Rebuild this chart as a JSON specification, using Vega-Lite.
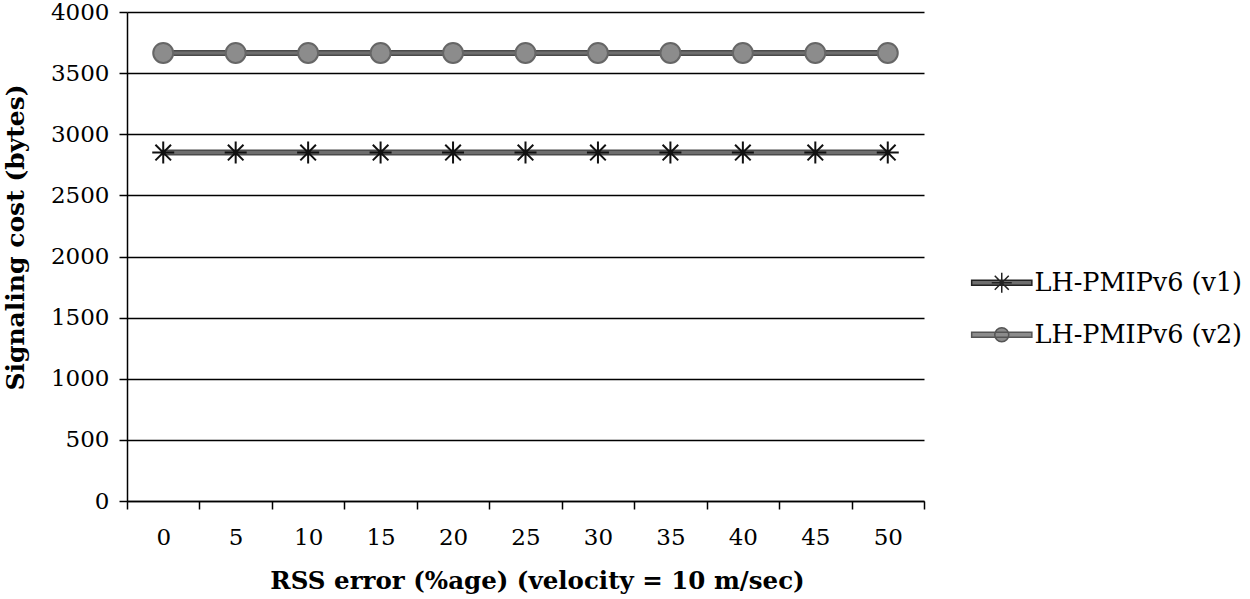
{
  "$schema": "https://vega.github.io/schema/vega-lite/v6.json",
  "width": 797,
  "height": 489,
  "autosize": {"type": "none"},
  "padding": {"left": 127, "top": 12, "right": 326, "bottom": 98},
  "background": "white",
  "config": {
    "view": {"stroke": null},
    "font": "DejaVu Serif"
  },
  "data": {
    "values": [
      {"x": 0, "series": "LH-PMIPv6 (v1)", "value": 2850},
      {"x": 5, "series": "LH-PMIPv6 (v1)", "value": 2850},
      {"x": 10, "series": "LH-PMIPv6 (v1)", "value": 2850},
      {"x": 15, "series": "LH-PMIPv6 (v1)", "value": 2850},
      {"x": 20, "series": "LH-PMIPv6 (v1)", "value": 2850},
      {"x": 25, "series": "LH-PMIPv6 (v1)", "value": 2850},
      {"x": 30, "series": "LH-PMIPv6 (v1)", "value": 2850},
      {"x": 35, "series": "LH-PMIPv6 (v1)", "value": 2850},
      {"x": 40, "series": "LH-PMIPv6 (v1)", "value": 2850},
      {"x": 45, "series": "LH-PMIPv6 (v1)", "value": 2850},
      {"x": 50, "series": "LH-PMIPv6 (v1)", "value": 2850},
      {"x": 0, "series": "LH-PMIPv6 (v2)", "value": 3665},
      {"x": 5, "series": "LH-PMIPv6 (v2)", "value": 3665},
      {"x": 10, "series": "LH-PMIPv6 (v2)", "value": 3665},
      {"x": 15, "series": "LH-PMIPv6 (v2)", "value": 3665},
      {"x": 20, "series": "LH-PMIPv6 (v2)", "value": 3665},
      {"x": 25, "series": "LH-PMIPv6 (v2)", "value": 3665},
      {"x": 30, "series": "LH-PMIPv6 (v2)", "value": 3665},
      {"x": 35, "series": "LH-PMIPv6 (v2)", "value": 3665},
      {"x": 40, "series": "LH-PMIPv6 (v2)", "value": 3665},
      {"x": 45, "series": "LH-PMIPv6 (v2)", "value": 3665},
      {"x": 50, "series": "LH-PMIPv6 (v2)", "value": 3665}
    ]
  },
  "resolve": {"scale": {"shape": "independent", "fill": "independent", "stroke": "independent"}},
  "layer": [
    {
      "mark": {"type": "line", "color": "#4a4a4a", "strokeWidth": 6},
      "encoding": {
        "x": {
          "field": "x",
          "type": "ordinal",
          "bandPosition": 0.5,
          "scale": {"type": "band", "paddingInner": 0, "paddingOuter": 0},
          "axis": {
            "title": "RSS error (%age) (velocity = 10 m/sec)",
            "titleFont": "DejaVu Serif",
            "titleFontSize": 24.5,
            "titleFontWeight": "bold",
            "titleColor": "#000",
            "titlePadding": 20,
            "titleX": 410,
            "labelFont": "DejaVu Serif",
            "labelFontSize": 23,
            "labelColor": "#000",
            "labelAngle": 0,
            "labelPadding": 17,
            "tickBand": "extent",
            "tickSize": 8,
            "tickWidth": 1.5,
            "tickColor": "#000",
            "domainColor": "#000",
            "domainWidth": 1.5,
            "grid": false
          }
        },
        "y": {
          "field": "value",
          "type": "quantitative",
          "scale": {"domain": [0, 4000], "nice": false},
          "axis": {
            "title": "Signaling cost (bytes)",
            "titleFont": "DejaVu Serif",
            "titleFontSize": 25,
            "titleFontWeight": "bold",
            "titleColor": "#000",
            "titlePadding": 22,
            "titleY": 225,
            "values": [0, 500, 1000, 1500, 2000, 2500, 3000, 3500, 4000],
            "format": "d",
            "labelFont": "DejaVu Serif",
            "labelFontSize": 23,
            "labelColor": "#000",
            "labelPadding": 10,
            "tickSize": 8,
            "tickWidth": 1.5,
            "tickColor": "#000",
            "domainColor": "#000",
            "domainWidth": 1.5,
            "grid": true,
            "gridColor": "#000",
            "gridWidth": 1.5,
            "gridOpacity": 1
          }
        },
        "detail": {"field": "series"}
      }
    },
    {
      "mark": {"type": "line", "color": "#6e6e6e", "strokeWidth": 3},
      "encoding": {
        "x": {"field": "x", "type": "ordinal", "bandPosition": 0.5},
        "y": {"field": "value", "type": "quantitative"},
        "detail": {"field": "series"}
      }
    },
    {
      "mark": {"type": "point", "opacity": 1, "strokeWidth": 2, "size": 400},
      "encoding": {
        "x": {"field": "x", "type": "ordinal", "bandPosition": 0.5},
        "y": {"field": "value", "type": "quantitative"},
        "shape": {
          "field": "series",
          "type": "nominal",
          "scale": {
            "domain": ["LH-PMIPv6 (v1)", "LH-PMIPv6 (v2)"],
            "range": ["M-1.1,0H1.1M0,-1.1V1.1M-0.78,-0.78L0.78,0.78M-0.78,0.78L0.78,-0.78", "circle"]
          },
          "legend": null
        },
        "fill": {
          "field": "series",
          "type": "nominal",
          "scale": {"domain": ["LH-PMIPv6 (v1)", "LH-PMIPv6 (v2)"], "range": ["#6a6a6a", "#8c8c8c"]},
          "legend": null
        },
        "stroke": {
          "field": "series",
          "type": "nominal",
          "scale": {"domain": ["LH-PMIPv6 (v1)", "LH-PMIPv6 (v2)"], "range": ["#111111", "#666666"]},
          "legend": null
        }
      }
    },
    {
      "transform": [{"filter": "false"}],
      "mark": {"type": "point", "opacity": 1, "strokeWidth": 1.5, "size": 196},
      "encoding": {
        "x": {"field": "x", "type": "ordinal", "bandPosition": 0.5},
        "y": {"field": "value", "type": "quantitative"},
        "shape": {
          "field": "series",
          "type": "nominal",
          "scale": {
            "domain": ["LH-PMIPv6 (v1)", "LH-PMIPv6 (v2)"],
            "range": [
              "M-4.3,-0.36H4.3V0.36H-4.3ZM-1.43,0H1.43M0,-1.43V1.43M-1,-1L1,1M-1,1L1,-1",
              "M-4.3,-0.36H4.3V0.36H-4.3ZM-1,0A1,1 0 1,1 1,0A1,1 0 1,1 -1,0Z"
            ]
          },
          "legend": {
            "title": null,
            "orient": "none",
            "legendX": 862,
            "legendY": 258,
            "symbolSize": 196,
            "symbolStrokeWidth": 1.5,
            "labelFont": "DejaVu Serif",
            "labelFontSize": 25.5,
            "labelColor": "#000",
            "labelLimit": 400,
            "labelOffset": 20,
            "rowPadding": 25
          }
        },
        "fill": {
          "field": "series",
          "type": "nominal",
          "scale": {"domain": ["LH-PMIPv6 (v1)", "LH-PMIPv6 (v2)"], "range": ["#6e6e6e", "#8c8c8c"]}
        },
        "stroke": {
          "field": "series",
          "type": "nominal",
          "scale": {"domain": ["LH-PMIPv6 (v1)", "LH-PMIPv6 (v2)"], "range": ["#222222", "#555555"]}
        }
      }
    }
  ]
}
